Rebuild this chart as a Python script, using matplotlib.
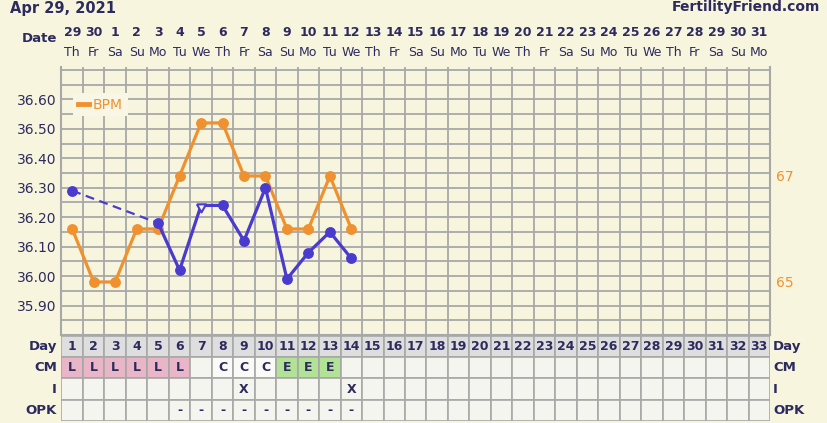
import matplotlib.pyplot as plt
import numpy as np
from matplotlib.lines import Line2D
from matplotlib.patches import Rectangle
from matplotlib.transforms import blended_transform_factory

# chart data
dates = [29, 30] + list(range(1, 32))
weekdays = (['Th', 'Fr', 'Sa', 'Su', 'Mo', 'Tu', 'We'] * 5)[:33]
cycle_days = np.arange(1, 34)

temp_days = [1, 5, 6, 7, 8, 9, 10, 11, 12, 13, 14]
temps = [36.29, 36.18, 36.02, 36.24, 36.24, 36.12, 36.30, 35.99, 36.08, 36.15, 36.06]
open_day = 7  # shown with an open triangle

bpm_days = list(range(1, 15))
bpm = [66, 65, 65, 66, 66, 67, 68, 68, 67, 67, 66, 66, 67, 66]

cm = ['L', 'L', 'L', 'L', 'L', 'L', '', 'C', 'C', 'C', 'E', 'E', 'E'] + [''] * 20
intercourse = [''] * 8 + ['X'] + [''] * 4 + ['X'] + [''] * 19
opk = [''] * 5 + ['-'] * 9 + [''] * 19

temp_ticks = [35.90, 36.00, 36.10, 36.20, 36.30, 36.40, 36.50, 36.60]
bpm_ticks = [65, 67]

# colours
cream = '#F7F5DE'
navy = '#2D2B5E'
grid_c = '#A8A8A8'
blue = '#4A3BCF'
orange = '#F0912F'
cm_colors = {'L': '#E8B6C6', 'E': '#B2E296', 'C': '#FAFAF6', '': '#F5F5EF'}

W, H = 828, 423
fig = plt.figure(figsize=(W / 100, H / 100), dpi=100, facecolor=cream)

x0, x1 = 61.5, 770
ytop, ybot = 67, 335
rect = [x0 / W, (H - ybot) / H, (x1 - x0) / W, (ybot - ytop) / H]

t_lo, t_hi = 35.80, 36.71
ax = fig.add_axes(rect, facecolor=cream)
ax.set_xlim(0.5, 33.5)
ax.set_ylim(t_lo, t_hi)
for x in np.arange(0.5, 34, 1):
    ax.axvline(x, color=grid_c, lw=1.3, zorder=1)
for y in np.arange(35.80, 36.71, 0.05):
    ax.axhline(y, color=grid_c, lw=1.3, zorder=1)
ax.set_xticks([])
ax.set_yticks(temp_ticks)
ax.set_yticklabels([f'{t:.2f}' for t in temp_ticks])
ax.tick_params(axis='y', length=0, pad=3.5, labelsize=10, labelcolor=navy)
for s in ax.spines.values():
    s.set_color(grid_c)
    s.set_linewidth(1.5)
ax.spines['top'].set_visible(False)

# BPM on a twin axis: 66 bpm sits at 36.16, 1 bpm = 0.18 C
def t2b(t):
    return 66 + (t - 36.16) / 0.18

ax_b = ax.twinx()
ax_b.set_ylim(t2b(t_lo), t2b(t_hi))
ax_b.plot(bpm_days, bpm, color=orange, lw=2.3, marker='o', ms=6.8, zorder=3)
ax_b.set_yticks(bpm_ticks)
ax_b.tick_params(axis='y', length=0, pad=4, labelsize=10, labelcolor=orange)
for s in ax_b.spines.values():
    s.set_visible(False)

# temperature on top
ax_t = ax.twinx()
ax_t.set_ylim(t_lo, t_hi)
ax_t.set_yticks([])
for s in ax_t.spines.values():
    s.set_visible(False)
ax_t.plot(temp_days[:2], temps[:2], color=blue, lw=1.6, ls=(0, (4, 2.5)))
ax_t.plot(temp_days[1:], temps[1:], color=blue, lw=2.3)
dot_d = [d for d in temp_days if d != open_day]
dot_t = [t for d, t in zip(temp_days, temps) if d != open_day]
ax_t.plot(dot_d, dot_t, ls='none', marker='o', ms=6.8, color=blue)
tri = [(-1, 0.25), (1, 0.25), (0, -1.5), (-1, 0.25)]
ax_t.plot([open_day], [temps[temp_days.index(open_day)]], ls='none',
          marker=tri, ms=10, mfc=cream, mec=blue, mew=1.5)

leg = ax_t.legend(handles=[Line2D([], [], color=orange, lw=3.5)], labels=['BPM'],
                  loc='upper left', bbox_to_anchor=(0.006, 0.93), handlelength=0.8,
                  handletextpad=0.3, borderpad=0.35, fontsize=10, labelcolor=orange,
                  frameon=True, fancybox=False)
leg.get_frame().set_facecolor('#F8F6E4')
leg.get_frame().set_edgecolor('none')
leg.get_frame().set_alpha(1)

# header
fig.text(10 / W, 1 - 8 / H, 'Apr 29, 2021', ha='left', va='center',
         fontsize=10.5, fontweight='bold', color=navy)
fig.text(820 / W, 1 - 7 / H, 'FertilityFriend.com', ha='right', va='center',
         fontsize=10, fontweight='bold', color=navy)
fig.text(57 / W, 1 - 38 / H, 'Date', ha='right', va='center',
         fontsize=9.5, fontweight='bold', color=navy)
tr = blended_transform_factory(ax.transData, fig.transFigure)
for d, dt, wd in zip(cycle_days, dates, weekdays):
    ax.text(d, 1 - 33 / H, str(dt), transform=tr, ha='center', va='center',
            fontsize=9, fontweight='bold', color=navy)
    ax.text(d, 1 - 53 / H, wd, transform=tr, ha='center', va='center',
            fontsize=9, color=navy)

# table below
ax_tab = fig.add_axes([x0 / W, 2 / H, (x1 - x0) / W, 85.5 / H], facecolor=cream)
ax_tab.set_xlim(0.5, 33.5)
ax_tab.set_ylim(4, 0)
ax_tab.axis('off')

rows = [
    ('Day', [str(d) for d in cycle_days], ['#DEDEDE'] * 33),
    ('CM', cm, [cm_colors[c] for c in cm]),
    ('I', intercourse, [cm_colors['']] * 33),
    ('OPK', opk, [cm_colors['']] * 33),
]
for r, (name, vals, cols) in enumerate(rows):
    for d, v, c in zip(cycle_days, vals, cols):
        ax_tab.add_patch(Rectangle((d - 0.5, r), 1, 1, facecolor=c,
                                   edgecolor=grid_c, lw=1.2))
        if v:
            ax_tab.text(d, r + 0.52, v, ha='center', va='center', fontsize=9,
                        fontweight='bold', color=navy)
    ax_tab.text(0.29, r + 0.52, name, ha='right', va='center', fontsize=9.5,
                fontweight='bold', color=navy)
    ax_tab.text(33.64, r + 0.52, name, ha='left', va='center', fontsize=9.5,
                fontweight='bold', color=navy)

fig.savefig('out.png', dpi=100, facecolor=cream)
